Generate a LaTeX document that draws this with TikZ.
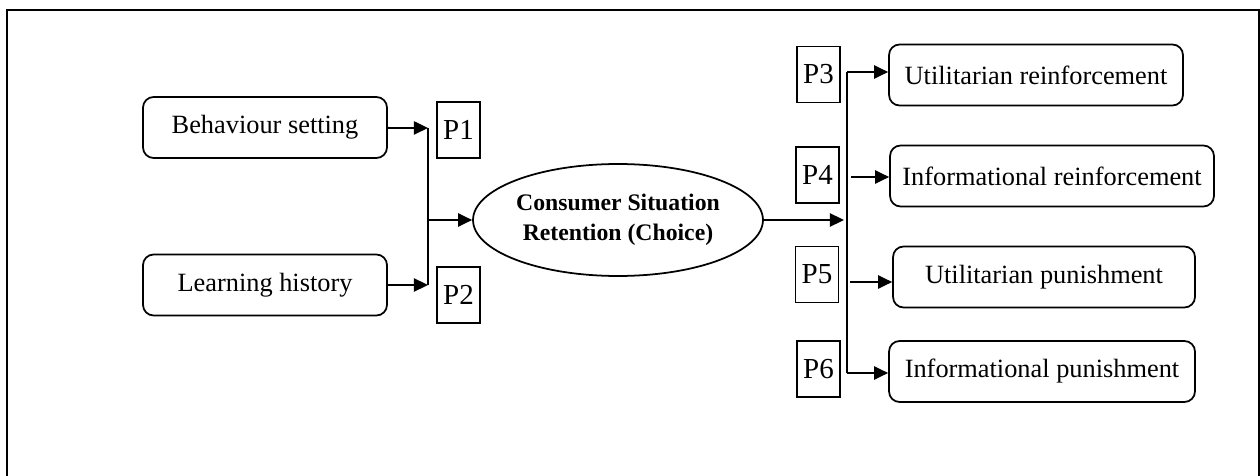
\documentclass[tikz,border=0pt]{standalone}
\usepackage{fontspec}
\setmainfont{Liberation Serif}
\usetikzlibrary{positioning,arrows.meta,shapes.geometric}

\begin{document}
\begin{tikzpicture}[x=0.02cm,y=-0.02cm,line width=1pt,
    >={Triangle[length=8pt,width=7.5pt]},
    every node/.style={font=\fontsize{15}{18}\selectfont,inner sep=0pt},
    factor/.style={draw,rounded corners=6pt,minimum width=#1,minimum height=1.22cm},
    prop/.style={draw,minimum width=0.86cm,minimum height=1.12cm,
        font=\fontsize{16.5}{18}\selectfont},
]
\useasboundingbox (0,0) rectangle (1260,476);
\draw[line width=1.2pt] (7,490) |- (1259,10) -- (1259,490);

% left side
\node[factor=4.88cm] (bs) at (265,127.5) {Behaviour setting};
\node[factor=4.88cm] (lh) at (265,285) {Learning history};
\node[prop] (p1) at (458.5,130) {P1};
\node[prop] (p2) at (458.5,295) {P2};
\node[draw,ellipse,minimum width=5.8cm,minimum height=2.24cm,align=center,
    font=\fontsize{13.5}{17}\selectfont\bfseries] (csr) at (618,220)
    {Consumer Situation\\Retention (Choice)};

% right side
\node[prop] (p3) at (818.5,74.5) {P3};
\node[prop] (p4) at (817.5,175) {P4};
\node[prop] (p5) at (817,274.5) {P5};
\node[prop] (p6) at (818.5,369) {P6};
\node[factor=5.88cm] (ur) at (1036,75) {Utilitarian reinforcement};
\node[factor=6.48cm] (ir) at (1052,176) {Informational reinforcement};
\node[factor=6.04cm] (up) at (1044,277) {Utilitarian punishment};
\node[factor=6.12cm] (ip) at (1042,371.5) {Informational punishment};

\coordinate (a1) at (428,128);
\coordinate (a2) at (428,285);
\coordinate (am) at (428,220);
\coordinate (b3) at (847,72);
\coordinate (b4) at (851,177);
\coordinate (b5) at (850,282);
\coordinate (b6) at (847,373);
\coordinate (bm) at (844,220);

\draw (a1) -- (a2) (b3) -- (b6);
\path[->] (bs) edge (a1) (lh) edge (a2) (am) edge (csr) (csr) edge (bm)
    (b3) edge (b3 -| ur.west) (b4) edge (b4 -| ir.west)
    (b5) edge (b5 -| up.west) (b6) edge (b6 -| ip.west);
\end{tikzpicture}
\end{document}
